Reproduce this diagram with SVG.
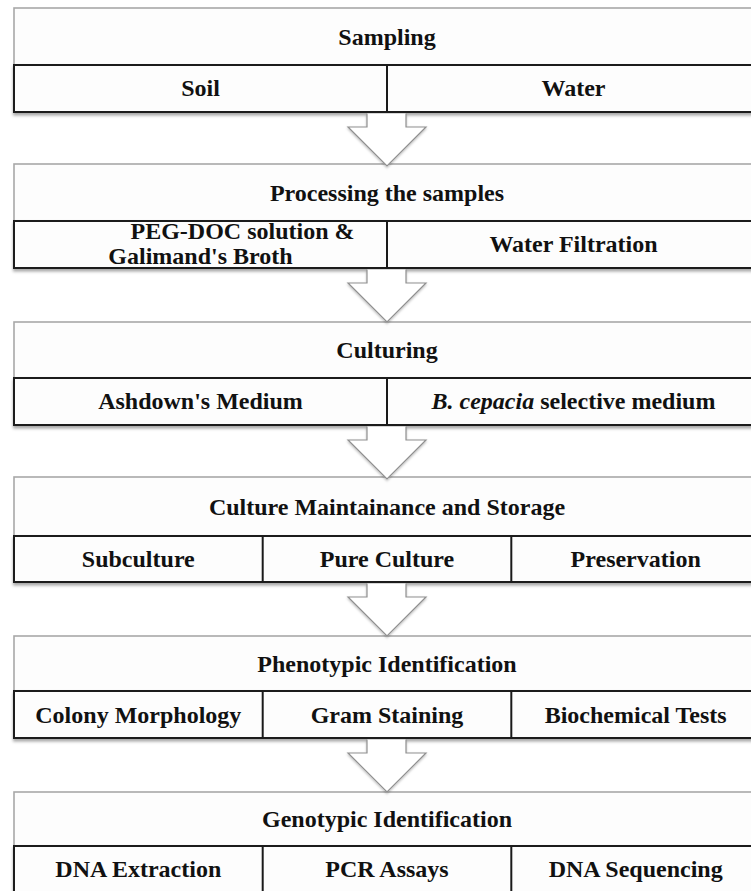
<svg xmlns="http://www.w3.org/2000/svg" width="751" height="891" viewBox="0 0 751 891">
<defs>
<filter id="sh" x="-5%" y="-20%" width="110%" height="150%">
<feDropShadow dx="0" dy="2.5" stdDeviation="1.6" flood-color="#000" flood-opacity="0.35"/>
</filter>
<filter id="ash" x="-20%" y="-20%" width="140%" height="140%">
<feDropShadow dx="0" dy="1.5" stdDeviation="1.2" flood-color="#000" flood-opacity="0.25"/>
</filter>
</defs>
<style>
.hd{fill:#fdfdfd;stroke:#a8a8a8;stroke-width:1.6}
.sb{fill:#fdfdfd;stroke:#1a1a1a;stroke-width:2}
.dv{stroke:#1a1a1a;stroke-width:2}
.ar{fill:#ffffff;stroke:#8f8f8f;stroke-width:1.2;stroke-linejoin:miter}
text{font-family:"Liberation Serif","Times New Roman",serif;font-weight:bold;font-size:24px;fill:#111;text-anchor:middle}
</style>
<rect width="751" height="891" fill="#ffffff"/>

<g id="n1">
<rect class="hd" x="14" y="8" width="746" height="57"/>
<text x="387" y="45">Sampling</text>
<g filter="url(#sh)"><rect class="sb" x="14" y="65" width="746" height="47"/></g>
<line class="dv" x1="387" y1="65" x2="387" y2="112"/>
<text x="200.5" y="96">Soil</text>
<text x="573.5" y="96">Water</text>
</g>

<g id="n2">
<rect class="hd" x="14" y="164" width="746" height="57"/>
<text x="387" y="201">Processing the samples</text>
<g filter="url(#sh)"><rect class="sb" x="14" y="221" width="746" height="47"/></g>
<line class="dv" x1="387" y1="221" x2="387" y2="268"/>
<text x="242.5" y="239">PEG-DOC solution &amp;</text>
<text x="200.5" y="264">Galimand's Broth</text>
<text x="573.5" y="252">Water Filtration</text>
</g>

<g id="n3">
<rect class="hd" x="14" y="322" width="746" height="56"/>
<text x="387" y="358">Culturing</text>
<g filter="url(#sh)"><rect class="sb" x="14" y="378" width="746" height="47"/></g>
<line class="dv" x1="387" y1="378" x2="387" y2="425"/>
<text x="200.5" y="409">Ashdown's Medium</text>
<text x="573.5" y="409"><tspan font-style="italic">B. cepacia</tspan> selective medium</text>
</g>

<g id="n4">
<rect class="hd" x="14" y="477" width="746" height="59"/>
<text x="387" y="515">Culture Maintainance and Storage</text>
<g filter="url(#sh)"><rect class="sb" x="14" y="536" width="746" height="46"/></g>
<line class="dv" x1="262.7" y1="536" x2="262.7" y2="582"/>
<line class="dv" x1="511.3" y1="536" x2="511.3" y2="582"/>
<text x="138.3" y="567">Subculture</text>
<text x="387" y="567">Pure Culture</text>
<text x="635.7" y="567">Preservation</text>
</g>

<g id="n5">
<rect class="hd" x="14" y="636" width="746" height="55"/>
<text x="387" y="672">Phenotypic Identification</text>
<g filter="url(#sh)"><rect class="sb" x="14" y="691" width="746" height="47"/></g>
<line class="dv" x1="262.7" y1="691" x2="262.7" y2="738"/>
<line class="dv" x1="511.3" y1="691" x2="511.3" y2="738"/>
<text x="138.3" y="722.5">Colony Morphology</text>
<text x="387" y="722.5">Gram Staining</text>
<text x="635.7" y="722.5">Biochemical Tests</text>
</g>

<g id="n6">
<rect class="hd" x="14" y="792" width="746" height="54"/>
<text x="387" y="827">Genotypic Identification</text>
<g filter="url(#sh)"><rect class="sb" x="14" y="846" width="746" height="47"/></g>
<line class="dv" x1="262.7" y1="846" x2="262.7" y2="893"/>
<line class="dv" x1="511.3" y1="846" x2="511.3" y2="893"/>
<text x="138.3" y="877">DNA Extraction</text>
<text x="387" y="877">PCR Assays</text>
<text x="635.7" y="877">DNA Sequencing</text>
</g>

<g id="connectors" filter="url(#ash)">
<path class="ar" d="M367,113.5 V127 H348 L387,166 L426,127 H406 V113.5"/>
<path class="ar" d="M367,269.5 V283 H348 L387,322 L426,283 H406 V269.5"/>
<path class="ar" d="M367,426.5 V440 H348 L387,479 L426,440 H406 V426.5"/>
<path class="ar" d="M367,583.5 V597 H348 L387,636 L426,597 H406 V583.5"/>
<path class="ar" d="M367,739.5 V753 H348 L387,792 L426,753 H406 V739.5"/>
</g>
</svg>
